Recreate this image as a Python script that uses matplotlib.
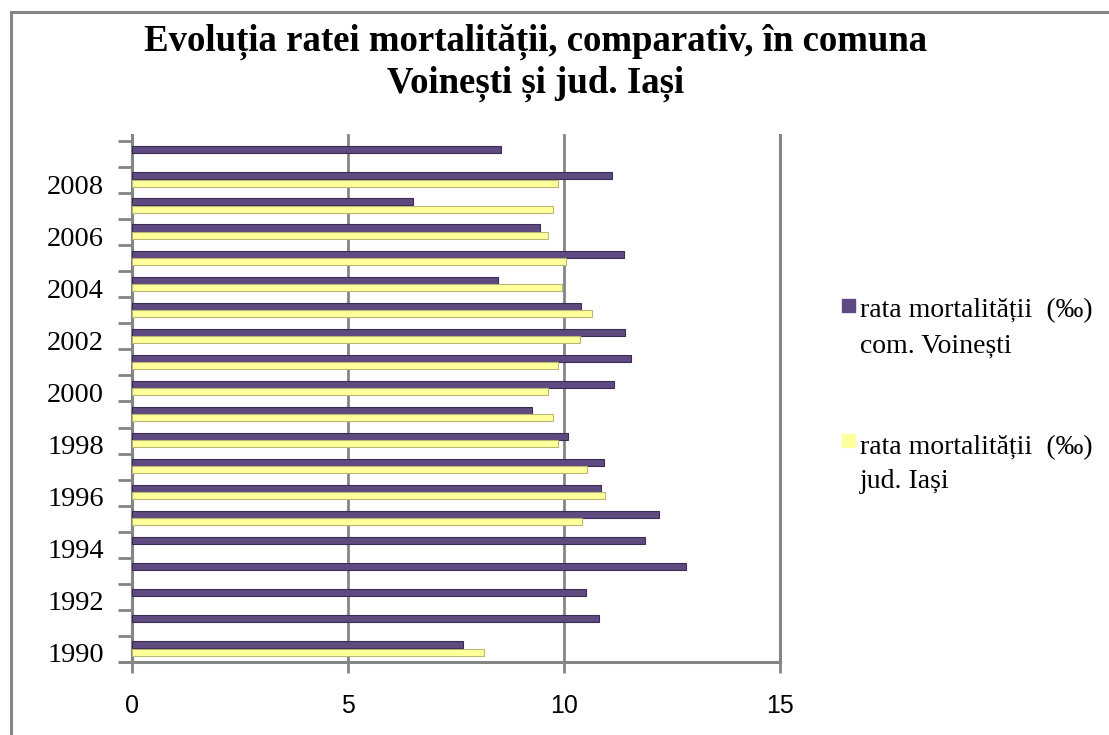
import matplotlib
matplotlib.use("Agg")
import matplotlib.pyplot as plt
import matplotlib.transforms as mtransforms
from matplotlib.patches import Rectangle
from matplotlib.lines import Line2D
import numpy as np

# ─── Daten ────────────────────────────────────────────────────────────────────
ani = list(range(1990, 2010))
voinesti = [7.67, 10.81, 10.51, 12.82, 11.87, 12.20, 10.85, 10.92, 10.10, 9.27,
            11.15, 11.55, 11.42, 10.40, 8.47, 11.39, 9.45, 6.51, 11.12, 8.55]
iasi = [8.15, np.nan, np.nan, np.nan, np.nan, 10.42, 10.94, 10.53, 9.85, 9.74,
        9.64, 9.85, 10.36, 10.64, 9.95, 10.05, 9.64, 9.74, 9.85, np.nan]
eticheta_1 = ["rata mortalității  (‰)", "com. Voinești"]
eticheta_2 = ["rata mortalității  (‰)", "jud. Iași"]
titlu = "Evoluția ratei mortalității, comparativ, în comuna\nVoinești și jud. Iași"

# ─── Stil ─────────────────────────────────────────────────────────────────────
MOV = "#5E4A80"
MOV_MARGINE = "#3B2C55"
GALBEN = "#FFFF9C"
GALBEN_MARGINE = "#B8B873"
GRI = "#858585"
SERIF = ["Liberation Serif", "DejaVu Serif"]

W, H = 1109, 735
fig = plt.figure(figsize=(W / 100, H / 100), dpi=100)

# Rahmen (oben + links)
fig.add_artist(Line2D([11 / W, 11 / W], [0, 1 - 12 / H], color=GRI, lw=2.2))
fig.add_artist(Line2D([11 / W, 1], [1 - 12 / H, 1 - 12 / H], color=GRI, lw=2.2))

ax = fig.add_axes([132 / W, 1 - 662 / H, (780 - 132) / W, (662 - 141) / H])

y = np.arange(len(ani))
h = 0.27
ax.barh(y + 0.16, voinesti, height=h, color=MOV, edgecolor=MOV_MARGINE,
        linewidth=0.8, zorder=3)
# fehlende Werte (NaN) werden nicht gezeichnet
ax.barh(y - 0.12, iasi, height=h, color=GALBEN,
        edgecolor=GALBEN_MARGINE, linewidth=0.8, zorder=3)

ax.set_xlim(0, 15)
ax.set_ylim(-0.5, len(ani) - 0.5)

# Gitterlinien (leicht über die Fläche hinaus, wie die 3D-Wand)
for gx in (5, 10):
    ax.axvline(gx, ymax=1.012, color=GRI, lw=2, zorder=1, clip_on=False)
ax.axvline(15, ymax=1.012, color=GRI, lw=2.2, zorder=1, clip_on=False)
ax.axvline(0, ymax=1.012, color=GRI, lw=2.2, zorder=1, clip_on=False)

for s in ("top", "right"):
    ax.spines[s].set_visible(False)
for s in ("left", "bottom"):
    ax.spines[s].set_color(GRI)
    ax.spines[s].set_linewidth(2.2)
ax.spines["bottom"].set_bounds(-0.28, 15)

ax.set_xticks([0, 5, 10, 15])
ax.set_xticklabels(["0", "5", "10", "15"], family="Liberation Sans", fontsize=18)
ax.tick_params(axis="x", length=8, width=2, color=GRI, pad=15)

etichete_idx = [i for i, a in enumerate(ani) if a % 2 == 0]
ax.set_yticks(etichete_idx)
ax.set_yticklabels([str(ani[i]) for i in etichete_idx], family=SERIF, fontsize=20.5)
ax.tick_params(axis="y", length=0, pad=20)
jos = mtransforms.ScaledTranslation(0, -4 / 100, fig.dpi_scale_trans)
for lbl in ax.get_yticklabels():
    lbl.set_transform(lbl.get_transform() + jos)
ax.set_yticks(np.arange(-0.5, len(ani), 1.0), minor=True)
ax.tick_params(axis="y", which="minor", length=10, width=2, color=GRI)

# Titel
fig.text(536 / W, 1 - 63 / H, titlu, ha="center", va="center",
         family=SERIF, fontweight="bold", fontsize=26.5, linespacing=1.2)

# Legende (manuell)
for (yq, culoare, linii, yl) in [(299, MOV, eticheta_1, (308, 343)),
                                  (434, GALBEN, eticheta_2, (445, 479))]:
    fig.add_artist(Rectangle((842 / W, 1 - (yq + 13) / H), 13 / W, 13 / H,
                             transform=fig.transFigure, color=culoare))
    for text, yy in zip(linii, yl):
        fig.text(860 / W, 1 - yy / H, text, ha="left", va="center_baseline",
                 family=SERIF, fontsize=20)

plt.savefig("out.png", dpi=100)
plt.close()
